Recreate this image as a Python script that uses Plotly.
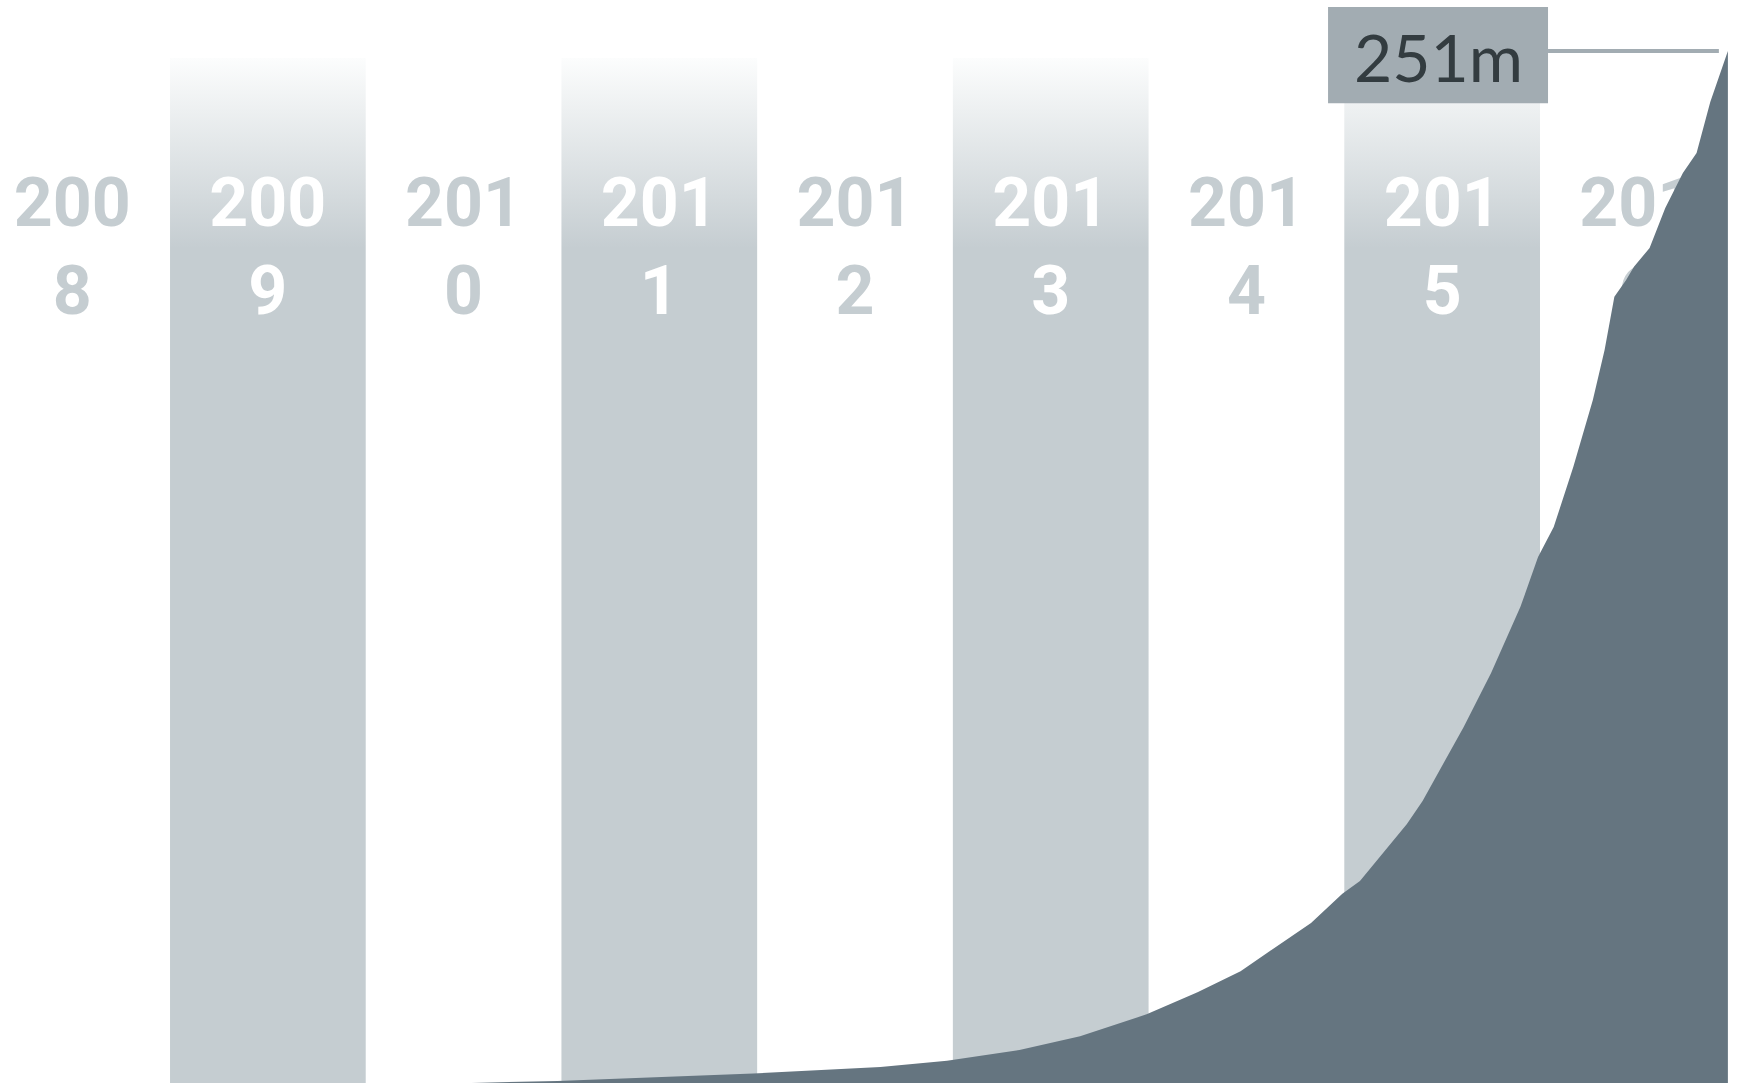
import plotly.graph_objects as go

# ---- data ----
years = [2008, 2009, 2010, 2011, 2012, 2013, 2014, 2015, 2016]
year_labels = ["200<br>8", "200<br>9", "201<br>0", "201<br>1", "201<br>2",
               "201<br>3", "201<br>4", "201<br>5", "201<br>6"]
shaded_years = [2009, 2011, 2013, 2015]

# cumulative total (millions) by decimal year
t = [2010.54, 2010.98, 2011.98, 2012.63, 2012.97, 2013.34, 2013.65, 2013.99,
     2014.25, 2014.47, 2014.62, 2014.83, 2014.99, 2015.08, 2015.32, 2015.40,
     2015.61, 2015.75, 2015.90, 2015.99, 2016.07, 2016.17, 2016.27, 2016.33,
     2016.38, 2016.44, 2016.48, 2016.56, 2016.64, 2016.73, 2016.80, 2016.87,
     2016.96]
values = [0.0, 0.5, 2.3, 3.9, 5.4, 8.0, 11.4, 16.7,
          22.1, 27.2, 32.1, 38.9, 46.0, 49.1, 63.0, 68.6,
          86.6, 99.7, 115.8, 127.9, 135.2, 149.8, 166.1, 178.3,
          191.2, 195.3, 198.5, 203.1, 212.8, 221.3, 226.2, 238.6,
          251.0]
final_label = "251m"

# ---- styling ----
BAND = "#c5cdd1"
AREA = "#657580"
BOX = "#a2acb2"
TEXT_DARK = "#333c40"

X_RANGE = [2008.1313, 2017.027]
Y_RANGE = [0, 263.4]
BAND_TOP = 249.3
GRAD_FULL = 203.0
LABEL_Y = 201.8

fig = go.Figure()

# shaded year columns with vertical fade
for y in shaded_years:
    fig.add_trace(go.Scatter(
        x=[y, y + 1, y + 1, y, y],
        y=[0, 0, BAND_TOP, BAND_TOP, 0],
        mode="none", fill="toself",
        fillgradient=dict(type="vertical",
                          colorscale=[[0, BAND], [1, "#fcfdfd"]],
                          start=GRAD_FULL, stop=BAND_TOP),
        hoverinfo="skip", showlegend=False,
    ))

# year labels (drawn below the area)
fig.add_trace(go.Scatter(
    x=[y + 0.5 for y in years],
    y=[LABEL_Y] * len(years),
    mode="text",
    text=year_labels,
    textposition="middle center",
    textfont=dict(family="Roboto", size=68, weight=700,
                  color=["#ffffff" if y in shaded_years else BAND for y in years]),
    hoverinfo="skip", showlegend=False,
))

# area
fig.add_trace(go.Scatter(
    x=t, y=values, mode="lines", fill="tozeroy",
    line=dict(width=0, color=AREA), fillcolor=AREA,
    hoverinfo="skip", showlegend=False,
))

# final value callout
box_x0, box_x1 = 2014.917, 2016.041
fig.add_shape(type="rect", x0=box_x0, x1=box_x1, y0=238.3, y1=261.7,
              fillcolor=BOX, line=dict(width=0), layer="above")
fig.add_shape(type="line", x0=box_x1, x1=t[-1] - 0.046, y0=values[-1], y1=values[-1],
              line=dict(color=BOX, width=4), layer="above")
fig.add_annotation(x=(box_x0 + box_x1) / 2, y=249.6, text=final_label,
                   showarrow=False, xanchor="center", yanchor="middle",
                   font=dict(family="Lato", size=66, weight=400, color=TEXT_DARK))

fig.update_layout(
    width=1741, height=1083,
    margin=dict(l=0, r=0, t=0, b=0),
    paper_bgcolor="white", plot_bgcolor="white",
    xaxis=dict(range=X_RANGE, visible=False, fixedrange=True),
    yaxis=dict(range=Y_RANGE, visible=False, fixedrange=True),
    showlegend=False,
)

fig.write_html("out.html", config={"displayModeBar": False},
               post_script="document.body.style.margin='0';document.body.style.overflow='hidden';")
